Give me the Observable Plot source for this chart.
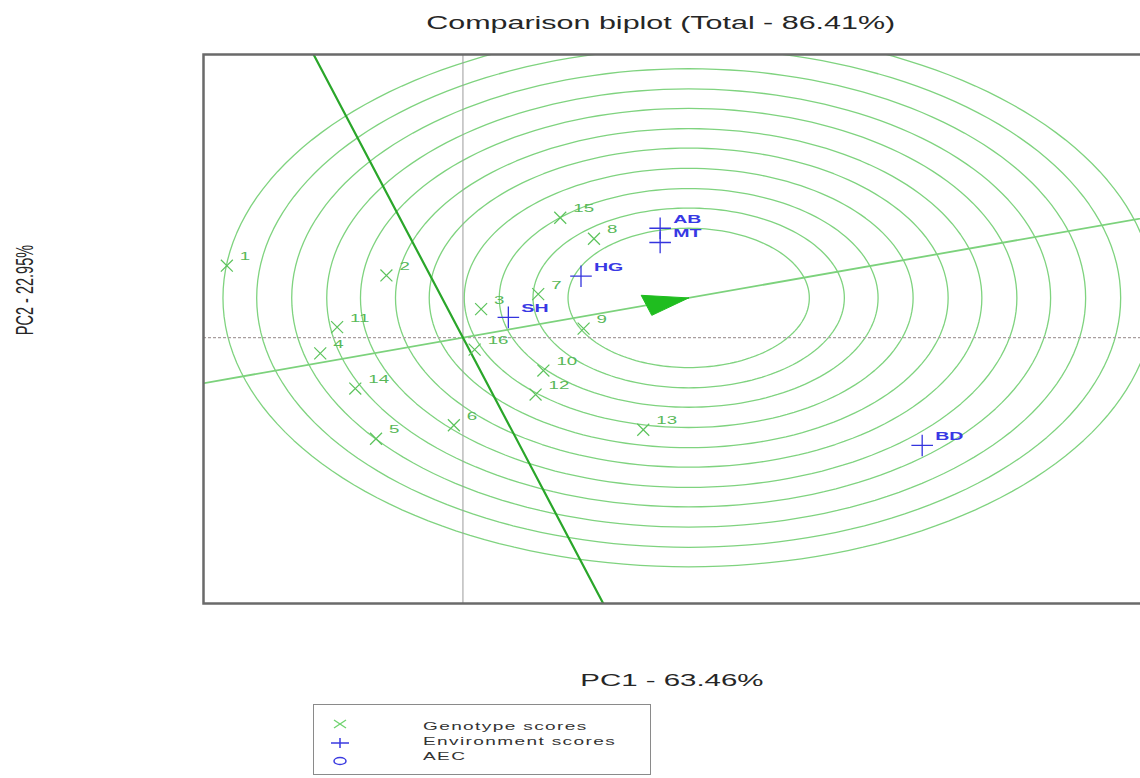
<!DOCTYPE html>
<html>
<head>
<meta charset="utf-8">
<script src="https://cdn.jsdelivr.net/npm/d3@7"></script>
<script src="https://cdn.jsdelivr.net/npm/@observablehq/plot@0.6"></script>
<style>
  html, body { margin: 0; padding: 0; background: #fff; overflow: hidden; }
  #chart { position: relative; width: 1140px; height: 778px; overflow: hidden;
           font-family: "Liberation Sans", Arial, sans-serif; background: #fff; }
  #chart > svg { position: absolute; left: 0; top: 0; max-width: none !important;
                 width: 1160px !important; height: 778px !important; }
  .lbl { position: absolute; white-space: nowrap; color: #262626; transform-origin: center; }
  #legend { position: absolute; left: 313px; top: 704px; width: 336px; height: 69px;
            border: 1.5px solid #8a8a8a; background: #fff; }
  #legend svg { position: absolute; left: 0; top: 0; }
  .legtxt { position: absolute; left: 109px; font-size: 11px; letter-spacing: 0.8px;
            color: #333; transform: translateY(-50%) scaleX(1.73); transform-origin: left center;
            white-space: nowrap; }
</style>
</head>
<body>
<div id="chart"></div>
<script>
// GGE comparison biplot: genotype and environment scores on PC1 / PC2
const titleText = "Comparison biplot (Total - 86.41%)";
const xLabel = "PC1 - 63.46%";
const yLabel = "PC2 - 22.95%";

// genotype scores
const genotypes = ["1", "2", "3", "4", "5", "6", "7", "8", "9", "10", "11", "12", "13", "14", "15", "16"];
const genoPC1 = [-1.82, -0.59, 0.14, -1.10, -0.67, -0.07, 0.58, 1.01, 0.93, 0.62, -0.97, 0.56, 1.39, -0.83, 0.75, 0.09];
const genoPC2 = [0.96, 0.83, 0.38, -0.21, -1.35, -1.17, 0.58, 1.32, 0.12, -0.44, 0.14, -0.76, -1.23, -0.68, 1.60, -0.16];

// environment scores
const environments = ["AB", "MT", "HG", "SH", "BD"];
const envPC1 = [1.52, 1.52, 0.91, 0.35, 3.54];
const envPC2 = [1.46, 1.27, 0.82, 0.27, -1.44];

// ideal genotype (head of the average-environment coordination arrow)
const idealPC1 = 1.74;
const idealPC2 = 0.53;

// concentric distance rings around the ideal genotype
const ringRadii = [0.93, 1.20, 1.46, 1.73, 2.00, 2.26, 2.53, 2.79, 3.06, 3.33, 3.59];

// legend entries
const legendLabels = ["Genotype scores", "Environment scores", "AEC"];

// ---- derived geometry ----
const genoRows = genotypes.map((g, i) => ({name: g, x: genoPC1[i], y: genoPC2[i]}));
const envRows = environments.map((e, i) => ({name: e, x: envPC1[i], y: envPC2[i]}));

const ringPts = [];
ringRadii.forEach((r, k) => {
  for (let a = 0; a <= 360; a += 2) {
    const t = a * Math.PI / 180;
    ringPts.push({ring: k, x: idealPC1 + r * Math.cos(t), y: idealPC2 + r * Math.sin(t)});
  }
});

const len = Math.hypot(idealPC1, idealPC2);
const ux = idealPC1 / len, uy = idealPC2 / len;   // AEC abscissa direction
const vx = -uy, vy = ux;                          // AEC ordinate direction
const far = 12;
const aecLine = [{x: -far * ux, y: -far * uy}, {x: far * ux, y: far * uy}];
const perpLine = [{x: -far * vx, y: -far * vy}, {x: far * vx, y: far * vy}];
const headLen = 0.34, headHalf = 0.14;
const bx = idealPC1 - headLen * ux, by = idealPC2 - headLen * uy;
const arrowHead = [
  {x: idealPC1, y: idealPC2},
  {x: bx + headHalf * vx, y: by + headHalf * vy},
  {x: bx - headHalf * vx, y: by - headHalf * vy},
  {x: idealPC1, y: idealPC2}
];

// the plotting frame runs past the right edge of the page
const chart = Plot.plot({
  width: 1160,
  height: 778,
  marginLeft: 203,
  marginRight: 10,
  marginTop: 54,
  marginBottom: 175,
  x: {domain: [-2, 5.30], axis: null},
  y: {domain: [-3.55, 3.78], axis: null},
  style: {background: "#fff", fontFamily: "'Liberation Sans', Arial, sans-serif"},
  marks: [
    Plot.line(ringPts, {x: "x", y: "y", z: "ring", stroke: "#7fd37f", strokeWidth: 1.3, clip: true}),
    Plot.ruleX([0], {stroke: "#9c9c9c", strokeWidth: 1}),
    Plot.ruleY([0], {stroke: "#a89e9e", strokeWidth: 1.3, strokeDasharray: "3,2"}),
    Plot.line(aecLine, {x: "x", y: "y", stroke: "#7cd27c", strokeWidth: 1.8, clip: true}),
    Plot.line(perpLine, {x: "x", y: "y", stroke: "#2aa62a", strokeWidth: 2.2, clip: true}),
    Plot.line(arrowHead, {x: "x", y: "y", fill: "#1fbd1f", stroke: "#1fbd1f", strokeWidth: 1}),
    Plot.dot(genoRows, {x: "x", y: "y", symbol: "times", r: 5.5, stroke: "#5cc35c", strokeWidth: 1.2}),
    Plot.text(genoRows, {x: "x", y: "y", text: "name", dx: 13, dy: -9, textAnchor: "start",
      fill: "#58b858", fontSize: 11}),
    Plot.dot(envRows, {x: "x", y: "y", symbol: "plus", r: 7, stroke: "#3434de", strokeWidth: 1.3}),
    Plot.text(envRows, {x: "x", y: "y", text: "name", dx: 13, dy: -9, textAnchor: "start",
      fill: "#3838e4", fontSize: 11.5, fontWeight: "bold"}),
    Plot.frame({stroke: "#6a6a6a", strokeWidth: 2.5})
  ]
});

// widen the point labels horizontally around their anchor
chart.querySelectorAll("g[aria-label='text'] text").forEach((t) => {
  const tr = t.getAttribute("transform") || "";
  const x = +t.getAttribute("x") || 0, y = +t.getAttribute("y") || 0;
  t.setAttribute("transform", `${tr} translate(${x},${y}) scale(1.7,1) translate(${-x},${-y})`);
});

const root = document.getElementById("chart");
root.appendChild(chart);

function addLabel(text, size) {
  const d = document.createElement("div");
  d.className = "lbl";
  d.textContent = text;
  d.style.fontSize = size + "px";
  root.appendChild(d);
  return d;
}
// place a label by its centre, then stretch / turn it
function centre(el, cx, cy, extra) {
  const w = el.offsetWidth, h = el.offsetHeight;
  el.style.left = (cx - w / 2) + "px";
  el.style.top = (cy - h / 2) + "px";
  el.style.transform = extra;
}
centre(addLabel(titleText, 17.5), 660, 23, "scaleX(1.74)");
centre(addLabel(xLabel, 17), 672, 681, "scaleX(1.73)");
centre(addLabel(yLabel, 14.5), 24, 290, "scaleX(1.7) rotate(-90deg)");

// legend
const legend = document.createElement("div");
legend.id = "legend";
legend.innerHTML = `
<svg width="336" height="69">
  <g stroke="#6fd36f" stroke-width="1.3" fill="none">
    <line x1="20" y1="15" x2="32" y2="23"/><line x1="20" y1="23" x2="32" y2="15"/>
  </g>
  <g stroke="#3a3ae0" stroke-width="1.5" fill="none">
    <line x1="17" y1="38" x2="35" y2="38"/><line x1="26" y1="33" x2="26" y2="43"/>
    <ellipse cx="26" cy="56" rx="6" ry="3.5"/>
  </g>
</svg>`;
root.appendChild(legend);
const rowsY = [21, 36, 51];
legendLabels.forEach((t, i) => {
  const s = document.createElement("div");
  s.className = "legtxt";
  s.style.top = rowsY[i] + "px";
  s.textContent = t;
  legend.appendChild(s);
});
</script>
</body>
</html>
